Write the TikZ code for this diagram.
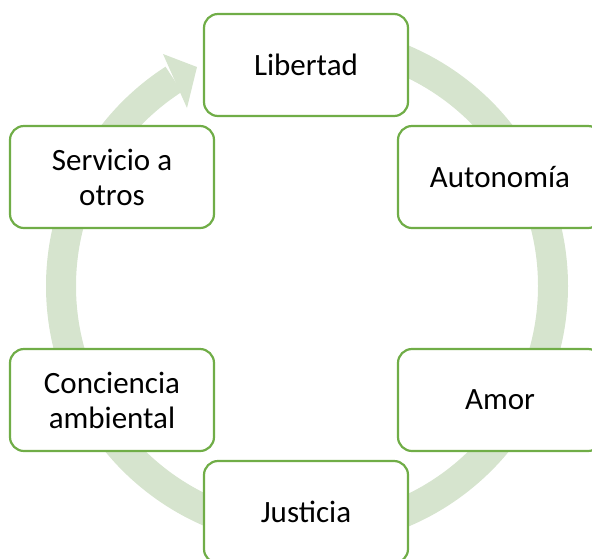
\documentclass[tikz,border=0pt]{standalone}
\usepackage{fontspec}
\setmainfont{Carlito}
\definecolor{boxgreen}{RGB}{112,173,71}
\definecolor{bandgreen}{RGB}{214,228,206}
\begin{document}
\begin{tikzpicture}[x=1pt,y=-1pt,
  item/.style={draw=boxgreen, line width=2.2pt, fill=white, rounded corners=14pt,
    minimum width=204pt, minimum height=102pt, align=center, inner sep=0pt,
    font=\fontsize{31}{35}\selectfont},
  band/.style={draw=bandgreen, line width=30pt}]
\useasboundingbox (0,0) rectangle (592,558);
\draw[band] (307,286) ++(-90:246) arc[start angle=-90, end angle=237.2, radius=246];
\fill[bandgreen] (163,54) -- (197,67) -- (187,108) -- cycle;
\node[item] (libertad) at (306,65) {Libertad};
\node[item] (autonomia) at (500,177) {Autonomía};
\node[item] (amor) at (500,400) {Amor};
\node[item] (justicia) at (306,512) {Justicia};
\node[item] (conciencia) at (112,400) {Conciencia\\ambiental};
\node[item] (servicio) at (112,177) {Servicio a\\otros};
\end{tikzpicture}
\end{document}
